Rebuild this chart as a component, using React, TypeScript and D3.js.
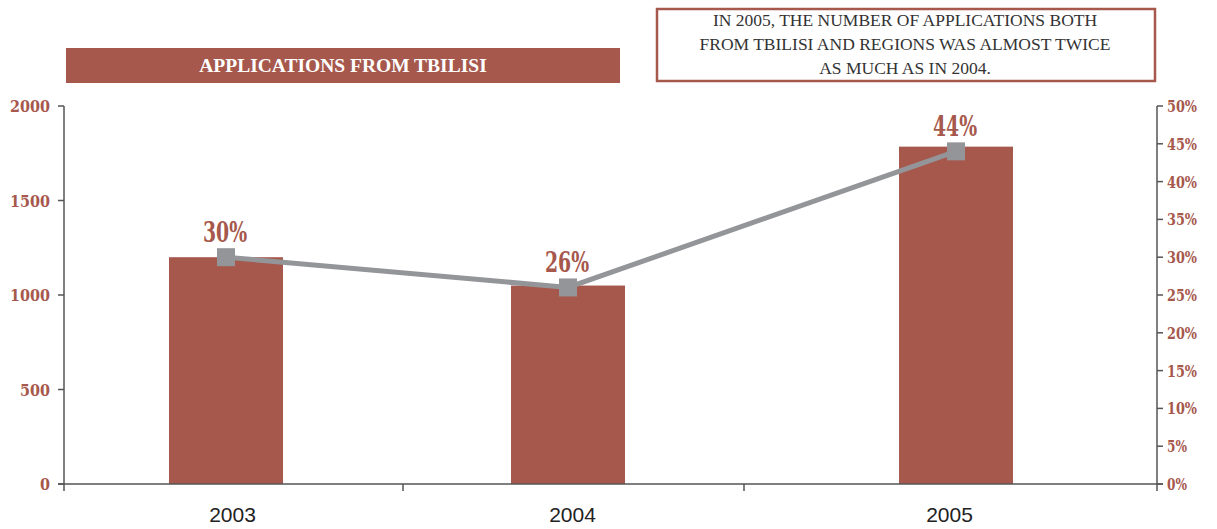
import React from "react";
import * as d3 from "d3";

// Applications from Tbilisi per year, with the share of all applications
const years = ["2003", "2004", "2005"];
const applications = [1200, 1050, 1785];
const sharePct = [30, 26, 44];
const leftTicks = [0, 500, 1000, 1500, 2000];
const rightTicks = [0, 5, 10, 15, 20, 25, 30, 35, 40, 45, 50];
const title = "APPLICATIONS FROM TBILISI";
const noteLines = [
  "IN 2005, THE NUMBER OF APPLICATIONS BOTH",
  "FROM TBILISI AND REGIONS WAS ALMOST TWICE",
  "AS MUCH AS IN 2004.",
];

const W = 1217;
const H = 529;
const RED = "#a6584c";
const GREY = "#939598";
const AXIS = "#555555";

// plot frame
const left = 64;
const right = 1157;
const top = 106;
const bottom = 484;
// category band edges along the x axis (uneven, as laid out in the chart)
const bandEdges = [left, 403, 744, right];
// bar centres within each band
const barCenters = [226, 568, 956];
const barWidth = 114;

// narrow serif numerals: fixed advance per character
const tickCharW = 10;
const valueCharW = 14.7;

export default function App() {
  const yLeft = d3.scaleLinear().domain([0, 2000]).range([bottom, top]);
  const yRight = d3.scaleLinear().domain([0, 50]).range([bottom, top]);
  const xBar = d3.scaleOrdinal<string, number>().domain(years).range(barCenters);
  const xLabel = d3
    .scaleOrdinal<string, number>()
    .domain(years)
    .range(years.map((_, i) => (bandEdges[i] + bandEdges[i + 1]) / 2 - 1));

  const linePts: [number, number][] = years.map((y, i) => [xBar(y), yRight(sharePct[i])]);
  const linePath = d3.line()(linePts) ?? "";

  const serifNum = "'DejaVu Serif', serif";
  const times = "'Liberation Serif', 'Times New Roman', serif";

  return (
    <svg
      width={W}
      height={H}
      style={{ position: "absolute", left: 0, top: 0, display: "block", background: "#fff" }}
    >
      {/* title banner */}
      <rect x={66} y={48} width={554} height={35} fill={RED} />
      <text
        x={343}
        y={71.5}
        textAnchor="middle"
        fill="#fff"
        fontFamily={times}
        fontWeight="bold"
        fontSize={19.5}
      >
        {title}
      </text>

      {/* note box */}
      <rect x={657} y={9} width={498} height={72} fill="#fff" stroke={RED} strokeWidth={2.5} />
      {noteLines.map((t, i) => (
        <text
          key={i}
          x={905}
          y={26 + i * 24}
          textAnchor="middle"
          fill="#333"
          fontFamily={times}
          fontSize={17.5}
        >
          {t}
        </text>
      ))}

      {/* bars */}
      {years.map((y, i) => (
        <rect
          key={y}
          x={xBar(y) - barWidth / 2}
          y={yLeft(applications[i])}
          width={barWidth}
          height={bottom - yLeft(applications[i])}
          fill={RED}
        />
      ))}

      {/* axes */}
      <line x1={left} x2={left} y1={top} y2={bottom + 7} stroke={AXIS} strokeWidth={1.5} />
      <line x1={right} x2={right} y1={top} y2={bottom + 7} stroke={AXIS} strokeWidth={1.5} />
      <line x1={left - 6} x2={right + 6} y1={bottom} y2={bottom} stroke={AXIS} strokeWidth={1.5} />
      {bandEdges.slice(1, -1).map((x, i) => (
        <line key={i} x1={x} x2={x} y1={bottom} y2={bottom + 7} stroke={AXIS} strokeWidth={1.5} />
      ))}
      {leftTicks.map((t) => {
        const s = String(t);
        return (
          <g key={t}>
            <line x1={left - 6} x2={left} y1={yLeft(t)} y2={yLeft(t)} stroke={AXIS} strokeWidth={1.5} />
            <text
              x={50 - s.length * tickCharW}
              y={yLeft(t) + 6}
              fill={RED}
              fontFamily={serifNum}
              fontWeight="bold"
              fontSize={17}
              textLength={s.length * tickCharW}
              lengthAdjust="spacingAndGlyphs"
            >
              {s}
            </text>
          </g>
        );
      })}
      {rightTicks.map((t) => {
        const s = `${t}%`;
        return (
          <g key={t}>
            <line x1={right} x2={right + 6} y1={yRight(t)} y2={yRight(t)} stroke={AXIS} strokeWidth={1.5} />
            <text
              x={1167}
              y={yRight(t) + 6}
              fill={RED}
              fontFamily={serifNum}
              fontWeight="bold"
              fontSize={17}
              textLength={s.length * tickCharW}
              lengthAdjust="spacingAndGlyphs"
            >
              {s}
            </text>
          </g>
        );
      })}
      {years.map((y) => (
        <text
          key={y}
          x={xLabel(y)}
          y={522}
          textAnchor="middle"
          fill="#222"
          fontFamily="'Liberation Sans', Arial, sans-serif"
          fontSize={21}
        >
          {y}
        </text>
      ))}

      {/* share line */}
      <path d={linePath} fill="none" stroke={GREY} strokeWidth={5} />
      {linePts.map(([x, y], i) => (
        <rect key={i} x={x - 9} y={y - 9} width={18} height={18} fill={GREY} />
      ))}
      {linePts.map(([x, y], i) => {
        const s = `${sharePct[i]}%`;
        const w = s.length * valueCharW;
        return (
          <text
            key={i}
            x={x - 1 - w / 2}
            y={y - 15}
            fill={RED}
            fontFamily={serifNum}
            fontWeight="bold"
            fontSize={27}
            textLength={w}
            lengthAdjust="spacingAndGlyphs"
          >
            {s}
          </text>
        );
      })}
    </svg>
  );
}
